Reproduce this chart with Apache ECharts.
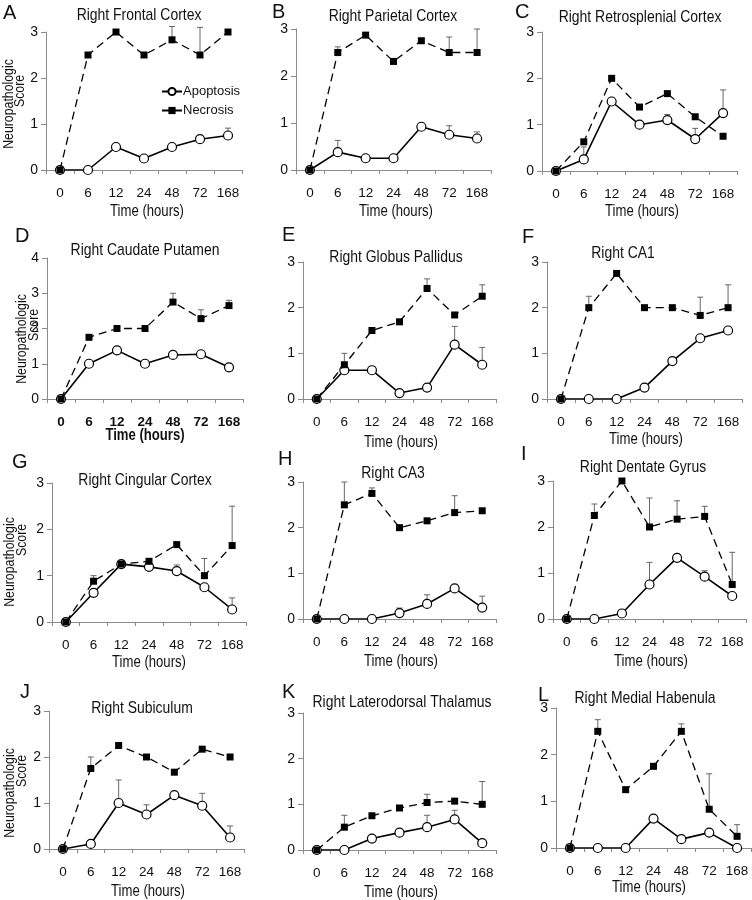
<!DOCTYPE html>
<html><head><meta charset="utf-8">
<script src="https://cdn.jsdelivr.net/npm/echarts@6/dist/echarts.min.js"></script>
<style>html,body{margin:0;padding:0;background:#fff}#c{width:752px;height:900px}</style>
</head><body><div id="c"></div>
<script>
const categories = ['0','6','12','24','48','72','168'];
const letters = ['A','B','C','D','E','F','G','H','I','J','K','L'];
const regions = ['Right Frontal Cortex','Right Parietal Cortex','Right Retrosplenial Cortex','Right Caudate Putamen','Right Globus Pallidus','Right CA1','Right Cingular Cortex','Right CA3','Right Dentate Gyrus','Right Subiculum','Right Laterodorsal Thalamus','Right Medial Habenula'];
const yMaxValues = [3,3,3,4,3,3,3,3,3,3,3,3];

const apoptosisA = [0,0,0.5,0.25,0.5,0.67,0.75];
const apoErrA    = [null,null,null,null,null,null,0.16];
const necrosisA  = [0,2.5,3,2.5,2.83,2.5,3];
const necErrA    = [null,null,null,null,0.29,0.6,null];

const apoptosisB = [0,0.38,0.25,0.25,0.92,0.75,0.67];
const apoErrB    = [null,0.25,null,null,null,0.19,0.14];
const necrosisB  = [0,2.5,2.87,2.31,2.75,2.5,2.5];
const necErrB    = [null,0.12,null,null,null,0.33,0.5];

const apoptosisC = [0,0.25,1.5,1,1.1,0.69,1.25];
const apoErrC    = [null,0.27,null,null,0.12,0.23,0.5];
const necrosisC  = [0,0.63,2,1.38,1.67,1.17,0.75];
const necErrC    = [null,null,null,null,null,null,null];

const apoptosisD = [0,1,1.38,1,1.25,1.27,0.9];
const apoErrD    = [null,null,null,null,null,null,null];
const necrosisD  = [0,1.75,2,2,2.75,2.28,2.65];
const necErrD    = [null,null,null,null,0.25,0.25,0.15];

const apoptosisE = [0,0.63,0.63,0.13,0.25,1.19,0.75];
const apoErrE    = [null,null,null,null,null,0.4,0.38];
const necrosisE  = [0,0.75,1.5,1.69,2.42,1.84,2.25];
const necErrE    = [null,0.25,null,null,0.21,null,0.25];

const apoptosisF = [0,0,0,0.25,0.83,1.33,1.5];
const apoErrF    = [null,null,null,null,null,null,null];
const necrosisF  = [0,2,2.75,2,2,1.83,2];
const necErrF    = [null,0.25,null,null,null,0.4,0.5];

const apoptosisG = [0,0.63,1.25,1.19,1.1,0.75,0.27];
const apoErrG    = [null,null,null,null,0.13,null,0.25];
const necrosisG  = [0,0.88,1.25,1.31,1.67,1,1.65];
const necErrG    = [null,0.12,null,null,null,0.37,0.85];

const apoptosisH = [0,0,0,0.13,0.33,0.67,0.25];
const apoErrH    = [null,null,null,0.11,0.2,null,0.25];
const necrosisH  = [0,2.5,2.75,2,2.15,2.33,2.37];
const necErrH    = [null,0.5,0.12,null,null,0.37,null];

const apoptosisI = [0,0,0.12,0.75,1.33,0.92,0.5];
const apoErrI    = [null,null,null,0.48,null,0.13,null];
const necrosisI  = [0,2.25,3,2,2.17,2.23,0.75];
const necErrI    = [null,0.25,null,0.63,0.4,0.22,0.7];

const apoptosisJ = [0,0.11,1,0.75,1.17,0.94,0.25];
const apoErrJ    = [null,null,0.5,0.21,null,0.27,0.25];
const necrosisJ  = [0,1.75,2.25,2,1.67,2.17,2];
const necErrJ    = [null,0.25,null,null,null,null,null];

const apoptosisK = [0,0,0.25,0.38,0.5,0.67,0.15];
const apoErrK    = [null,null,null,null,0.26,0.2,null];
const necrosisK  = [0,0.5,0.75,0.92,1.04,1.07,1];
const necErrK    = [null,0.26,null,null,0.18,null,0.5];

const apoptosisL = [0,0,0,0.63,0.19,0.33,0];
const apoErrL    = [null,null,null,null,null,null,null];
const necrosisL  = [0,2.5,1.25,1.75,2.5,0.83,0.25];
const necErrL    = [null,0.25,null,null,0.16,0.76,0.25];

const apoAll = [apoptosisA,apoptosisB,apoptosisC,apoptosisD,apoptosisE,apoptosisF,apoptosisG,apoptosisH,apoptosisI,apoptosisJ,apoptosisK,apoptosisL];
const apoErrAll = [apoErrA,apoErrB,apoErrC,apoErrD,apoErrE,apoErrF,apoErrG,apoErrH,apoErrI,apoErrJ,apoErrK,apoErrL];
const necAll = [necrosisA,necrosisB,necrosisC,necrosisD,necrosisE,necrosisF,necrosisG,necrosisH,necrosisI,necrosisJ,necrosisK,necrosisL];
const necErrAll = [necErrA,necErrB,necErrC,necErrD,necErrE,necErrF,necErrG,necErrH,necErrI,necErrJ,necErrK,necErrL];

// layout: grid [left, top, width, height]
const grids = [
  [46,32,196,138],[296,29,195,141],[542,32,195,139],
  [47,258,196,141],[303,262,193,137],[547,262,195,137],
  [52,483,194,139],[303,482,193,137],[553,481,193,138],
  [49,711,195,138],[303,713,193,137],[556,708,195,140]
];
const titlePos = [[139,15],[393,16],[640,17],[145,250],[396,257],[623,253],[145,480],[393,473],[643,467],[142,708],[402,702],[645,698]];
const letterPos = [[3,13],[272,12],[515,12],[15,236],[282,235],[522,237],[12,462],[278,459],[521,454],[20,692],[282,692],[538,695]];
const timePos = [[147,212],[396,212],[642,212],[145,436],[401,443],[646,440],[149,663],[401,662],[651,662],[148,892],[401,893],[649,888]];
const ynamePos = {0:[[9,104],[20,91]],3:[[22,339],[34,325]],6:[[10,562],[22,540]],9:[[10,793],[22,771]]};

const SANS = "'Liberation Sans',Arial,sans-serif";
const SQ = 0.82; // horizontal squeeze to mimic a narrow face
const AXIS = '#8a8a8a';

const option = {
  animation:false,
  backgroundColor:'#fff',
  grid:[], xAxis:[], yAxis:[], series:[], graphic:[],
  legend:{
    data:['Apoptosis','Necrosis'], orient:'vertical', left:156, top:80,
    itemWidth:20, itemHeight:9, itemGap:6,
    textStyle:{fontFamily:SANS, fontSize:13, color:'#111', padding:[0,0,0,-4]},
    selectedMode:false
  }
};

function errSeries(i, means, errs){
  const data = [];
  errs.forEach((e,j)=>{ if(e!=null) data.push([j, means[j], means[j]+e]); });
  return {
    type:'custom', xAxisIndex:i, yAxisIndex:i, z:1, silent:true, data:data,
    renderItem:function(params, api){
      const p0 = api.coord([api.value(0), api.value(1)]);
      const p1 = api.coord([api.value(0), api.value(2)]);
      return {type:'group', children:[
        {type:'line', shape:{x1:p0[0],y1:p0[1],x2:p1[0],y2:p1[1]}, style:{stroke:'#666',lineWidth:1}},
        {type:'line', shape:{x1:p1[0]-3,y1:p1[1],x2:p1[0]+3,y2:p1[1]}, style:{stroke:'#666',lineWidth:1}}
      ]};
    }
  };
}

for(let i=0;i<12;i++){
  const g = grids[i];
  const bold = (i===3) ? 'bold' : 'normal';
  option.grid.push({left:g[0], top:g[1], width:g[2], height:g[3]});
  option.xAxis.push({
    type:'category', gridIndex:i, data:categories, boundaryGap:true,
    axisLine:{lineStyle:{color:AXIS,width:1}},
    axisTick:{show:true,length:4,interval:0,lineStyle:{color:AXIS}},
    axisLabel:{interval:0,fontFamily:SANS,fontSize:13.5,color:'#111',margin:16,fontWeight:bold},
    splitLine:{show:false}
  });
  option.yAxis.push({
    type:'value', gridIndex:i, min:0, max:yMaxValues[i], interval:1,
    axisLine:{show:true,lineStyle:{color:AXIS,width:1}},
    axisTick:{show:true,length:5,lineStyle:{color:AXIS}},
    axisLabel:{fontFamily:SANS,fontSize:14,color:'#111',margin:8},
    splitLine:{show:false}
  });
  option.series.push(errSeries(i, apoAll[i], apoErrAll[i]));
  option.series.push(errSeries(i, necAll[i], necErrAll[i]));
  option.series.push({
    name:'Apoptosis', type:'line', xAxisIndex:i, yAxisIndex:i, data:apoAll[i], z:3,
    symbol:'circle', symbolSize:9, showAllSymbol:true,
    itemStyle:{color:'#fff', borderColor:'#000', borderWidth:1.2},
    lineStyle:{color:'#000', width:1.6}
  });
  option.series.push({
    name:'Necrosis', type:'line', xAxisIndex:i, yAxisIndex:i, data:necAll[i], z:4,
    symbol:'rect', symbolSize:7, showAllSymbol:true,
    itemStyle:{color:'#000', borderColor:'#000', borderWidth:0},
    lineStyle:{color:'#000', width:1.3, type:[8,5]}
  });
  option.graphic.push({type:'text', x:titlePos[i][0], y:titlePos[i][1], scaleX:SQ,
    style:{text:regions[i], align:'center', verticalAlign:'middle', fontFamily:SANS, fontSize:17, fill:'#111'}});
  option.graphic.push({type:'text', x:letterPos[i][0], y:letterPos[i][1],
    style:{text:letters[i], align:'left', verticalAlign:'middle', fontFamily:SANS, fontSize:20, fill:'#111'}});
  option.graphic.push({type:'text', x:timePos[i][0], y:timePos[i][1], scaleX:SQ,
    style:{text:'Time (hours)', align:'center', verticalAlign:'middle', fontFamily:SANS, fontSize:16, fontWeight:bold, fill:'#111'}});
  if(ynamePos[i]){
    const p = ynamePos[i];
    option.graphic.push({type:'text', x:p[0][0], y:p[0][1], rotation:Math.PI/2, scaleX:SQ,
      style:{text:'Neuropathologic', align:'center', verticalAlign:'middle', fontFamily:SANS, fontSize:15, fill:'#111'}});
    option.graphic.push({type:'text', x:p[1][0], y:p[1][1], rotation:Math.PI/2, scaleX:SQ,
      style:{text:'Score', align:'center', verticalAlign:'middle', fontFamily:SANS, fontSize:15, fill:'#111'}});
  }
}

const chart = echarts.init(document.getElementById('c'), null, {renderer:'canvas'});
chart.setOption(option);
</script>
</body></html>
